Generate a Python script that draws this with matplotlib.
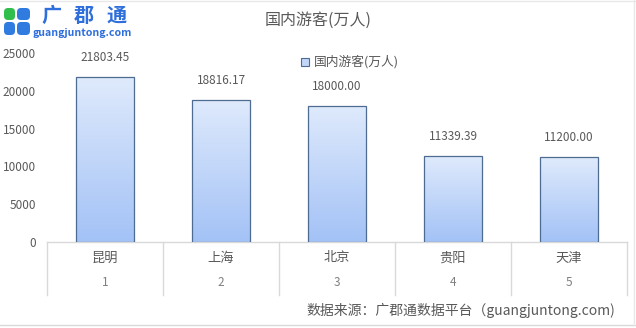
import matplotlib

matplotlib.use("Agg")
import matplotlib.pyplot as plt
import numpy as np
from matplotlib.patches import FancyBboxPatch, Rectangle
from matplotlib.transforms import blended_transform_factory

plt.rcParams["font.family"] = ["Noto Sans CJK SC", "DejaVu Sans"]

# data
cities = ["昆明", "上海", "北京", "贵阳", "天津"]
ranks = ["1", "2", "3", "4", "5"]
tourists = [21803.45, 18816.17, 18000.00, 11339.39, 11200.00]
yticks = [0, 5000, 10000, 15000, 20000, 25000]

TXT = "#595959"
LINE = "#d9d9d9"
EDGE = "#4e6b92"

W, H = 636, 328
fig = plt.figure(figsize=(W / 100, H / 100), dpi=100, facecolor="white")

# pixel overlay for frame, logo, source
ov = fig.add_axes([0, 0, 1, 1], zorder=0)
ov.set_xlim(0, W)
ov.set_ylim(H, 0)
ov.axis("off")

ax = fig.add_axes([47 / W, (H - 242) / H, 580 / W, 189 / H], zorder=1)
ax.patch.set_alpha(0)
x = np.arange(len(cities))
bars = ax.bar(x, tourists, width=0.5, color="none", edgecolor=EDGE, linewidth=0.9, zorder=3)

grad = np.linspace(0, 1, 256).reshape(-1, 1)
cmap = matplotlib.colors.LinearSegmentedColormap.from_list("g", ["#a3c2f6", "#dfeafc"])
for b in bars:
    bx, by = b.get_x(), b.get_y()
    im = ax.imshow(grad, extent=(bx, bx + b.get_width(), by, by + b.get_height()),
                   origin="lower", cmap=cmap, aspect="auto", zorder=2)
    im.set_clip_path(b)

for xi, v in zip(x, tourists):
    ax.annotate(f"{v:.2f}", (xi, v), xytext=(0, 14), textcoords="offset points",
                ha="center", va="center", fontsize=8.5, color=TXT)

ax.set_xlim(-0.5, len(cities) - 0.5)
ax.set_ylim(0, 25000)
ax.set_yticks(yticks)
ax.set_yticklabels([str(t) for t in yticks], fontsize=8.5, color=TXT)
ax.tick_params(axis="y", length=0, pad=8)
ax.set_xticks([])
for s in ["top", "right", "left"]:
    ax.spines[s].set_visible(False)
ax.spines["bottom"].set_color(LINE)
ax.spines["bottom"].set_linewidth(1)

# category table below the axis
tr = blended_transform_factory(ax.transData, ax.transAxes)
for b in np.arange(len(cities) + 1) - 0.5:
    ax.plot([b, b], [0, -53 / 189], transform=tr, color=LINE, lw=1, clip_on=False)
for xi, c, r in zip(x, cities, ranks):
    ax.text(xi, -16 / 189, c, transform=tr, ha="center", va="center", fontsize=9.5, color=TXT)
    ax.text(xi, -40 / 189, r, transform=tr, ha="center", va="center", fontsize=8.5, color="#7f7f7f")

# title and legend
ov.text(318, 20, "国内游客(万人)", ha="center", va="center", fontsize=11.5, color=TXT)
ov.add_patch(Rectangle((301, 58), 8, 8, facecolor="#c2d6f8", edgecolor=EDGE, lw=0.8))
ov.text(314, 62, "国内游客(万人)", ha="left", va="center", fontsize=9.2, color=TXT)

# source
ov.text(615, 310, "数据来源：广郡通数据平台（guangjuntong.com)", ha="right", va="center",
        fontsize=10.0, color=TXT)

# frame
ov.plot([0, W], [325, 325], color=LINE, lw=1)
ov.plot([0, W], [1, 1], color="#e8e8e8", lw=1)
ov.plot([634, 634], [0, 325], color="#e8e8e8", lw=1)

# logo
BLUE = "#2f6fdc"
ov.add_patch(FancyBboxPatch((4, 8), 11, 12, boxstyle="round,pad=0,rounding_size=4",
                            facecolor="#2fbf4a", edgecolor="none"))
ov.add_patch(FancyBboxPatch((17, 8), 13, 12, boxstyle="round,pad=0,rounding_size=4",
                            facecolor="#2f7be0", edgecolor="none"))
ov.add_patch(FancyBboxPatch((4, 22), 11, 13, boxstyle="round,pad=0,rounding_size=4",
                            facecolor="#2f7be0", edgecolor="none"))
ov.add_patch(FancyBboxPatch((17, 22), 13, 13, boxstyle="round,pad=0,rounding_size=4",
                            facecolor="#2f7be0", edgecolor="none"))
for cx, ch in zip([51, 84, 117], "广郡通"):
    ov.text(cx, 15, ch, ha="center", va="center", fontsize=14.5, color=BLUE, fontweight="bold")
ov.text(33, 33, "guangjuntong.com", ha="left", va="center", fontsize=7.6, color=BLUE,
        fontweight="bold")

fig.savefig("out.png", dpi=100, facecolor="white")
